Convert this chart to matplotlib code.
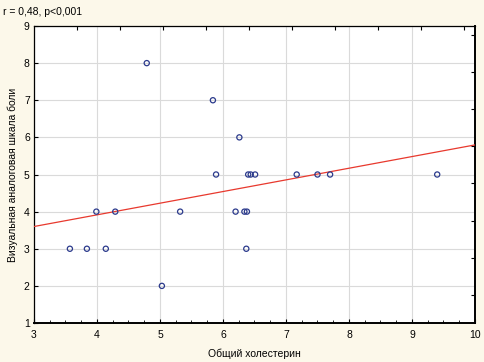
import matplotlib
matplotlib.use("Agg")
import matplotlib.pyplot as plt
import numpy as np

plt.rcParams["font.family"] = ["Liberation Sans", "DejaVu Sans"]

# Общий холестерин vs ВАШ боли
chol = [4.79, 5.84, 6.26, 5.89, 6.40, 6.44, 6.51, 7.17, 7.50, 7.70, 9.40,
        3.99, 4.29, 5.32, 6.20, 6.34, 6.38, 3.57, 3.84, 4.14, 6.37, 5.03]
pain = [8, 7, 6, 5, 5, 5, 5, 5, 5, 5, 5,
        4, 4, 4, 4, 4, 4, 3, 3, 3, 3, 2]

# regression line
intercept = 2.657
slope = 0.314

note = "r = 0,48, p<0,001"
xlabel = "Общий холестерин"
ylabel = "Визуальная аналоговая шкала боли"

bg = "#fcf8ea"
fig = plt.figure(figsize=(4.84, 3.62), dpi=100, facecolor=bg)
ax = fig.add_axes([0.0702, 0.1077, 0.9112, 0.8205])
ax.set_facecolor("white")

ax.set_xlim(3, 10)
ax.set_ylim(1, 9)
ax.set_xticks(np.arange(3, 11, 1))
ax.set_yticks(np.arange(1, 10, 1))
ax.set_xticks(np.arange(3, 10.01, 0.25), minor=True)
ax.grid(True, color="#dadada", linewidth=0.8)
ax.set_axisbelow(True)

xs = np.array([3, 10])
ax.plot(xs, intercept + slope * xs, color="#e8392e", linewidth=0.9, zorder=3)
ax.scatter(chol, pain, s=14, facecolors="none", edgecolors="#2b3a8c",
           linewidths=0.9, zorder=4)

ax.tick_params(axis="both", which="major", direction="in", length=3,
               labelsize=7.5, colors="black", pad=3)
ax.tick_params(axis="x", which="major", pad=5)
ax.tick_params(axis="x", which="minor", direction="in", length=2)
ax.tick_params(axis="y", which="minor", left=False)

for side in ["left", "bottom", "top"]:
    ax.spines[side].set_linewidth(0.9)
ax.spines["right"].set_linewidth(1.4)
ax.spines["bottom"].set_linewidth(1.4)

# extra decorative ticks on top and right (Statistica style)
top = ax.secondary_xaxis("top")
top.set_xticks(np.arange(3.68, 10, 0.683))
top.tick_params(direction="in", length=3, labeltop=False)
top.spines["top"].set_visible(False)
right = ax.secondary_yaxis("right")
right.set_yticks(np.arange(1.76, 9, 1))
right.tick_params(direction="in", length=3, labelright=False)
right.spines["right"].set_visible(False)

ax.set_xlabel(xlabel, fontsize=7.5, labelpad=6)
ax.set_ylabel(ylabel, fontsize=7.5, labelpad=4)
fig.text(0.006, 0.967, note, fontsize=7.5, ha="left", va="center")

fig.savefig("out.png", dpi=100, facecolor=bg)
